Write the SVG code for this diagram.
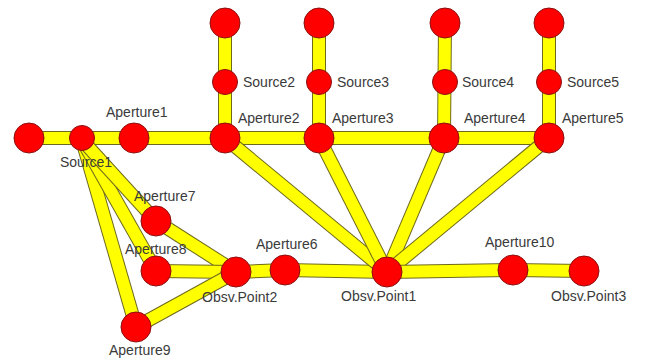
<svg xmlns="http://www.w3.org/2000/svg" width="645" height="363" viewBox="0 0 645 363">
<style>
.eo{stroke:#6e6a1c;stroke-width:14;fill:none}
.ei{stroke:#ffff00;stroke-width:12;fill:none}
.n{fill:#ff0000;stroke:#8a1010;stroke-width:1}
.t{font-family:"Liberation Sans",Arial,sans-serif;font-size:14px;fill:#3a3a3a}
</style>
<rect width="645" height="363" fill="#ffffff"/>
<g id="connectors">
<path class="eo" d="M29 138H82"/><path class="ei" d="M29 138H82"/>
<path class="eo" d="M82 138H134"/><path class="ei" d="M82 138H134"/>
<path class="eo" d="M134 138H225"/><path class="ei" d="M134 138H225"/>
<path class="eo" d="M225 138H319"/><path class="ei" d="M225 138H319"/>
<path class="eo" d="M319 138H444"/><path class="ei" d="M319 138H444"/>
<path class="eo" d="M444 138H549"/><path class="ei" d="M444 138H549"/>
<path class="eo" d="M225 23V138"/><path class="ei" d="M225 23V138"/>
<path class="eo" d="M319 23V138"/><path class="ei" d="M319 23V138"/>
<path class="eo" d="M445 23L444 138"/><path class="ei" d="M445 23L444 138"/>
<path class="eo" d="M549 23V138"/><path class="ei" d="M549 23V138"/>
<path class="eo" d="M82 140L136 327"/><path class="ei" d="M82 140L136 327"/>
<path class="eo" d="M82 140L156 271"/><path class="ei" d="M82 140L156 271"/>
<path class="eo" d="M82 140L156 221"/><path class="ei" d="M82 140L156 221"/>
<path class="eo" d="M156 221L236 272"/><path class="ei" d="M156 221L236 272"/>
<path class="eo" d="M156 271L236 272"/><path class="ei" d="M156 271L236 272"/>
<path class="eo" d="M136 327L236 272"/><path class="ei" d="M136 327L236 272"/>
<path class="eo" d="M236 272L285 270"/><path class="ei" d="M236 272L285 270"/>
<path class="eo" d="M285 270L387 272"/><path class="ei" d="M285 270L387 272"/>
<path class="eo" d="M225 138L387 272"/><path class="ei" d="M225 138L387 272"/>
<path class="eo" d="M319 138L387 272"/><path class="ei" d="M319 138L387 272"/>
<path class="eo" d="M444 138L387 272"/><path class="ei" d="M444 138L387 272"/>
<path class="eo" d="M549 138L387 272"/><path class="ei" d="M549 138L387 272"/>
<path class="eo" d="M387 272L513 270"/><path class="ei" d="M387 272L513 270"/>
<path class="eo" d="M513 270L584 271"/><path class="ei" d="M513 270L584 271"/>
</g>
<g id="node-left"><circle class="n" cx="29" cy="138" r="15"/></g>
<g id="Source1"><circle class="n" cx="82" cy="138" r="12.5"/><text class="t" x="60" y="167">Source1</text></g>
<g id="Aperture1"><circle class="n" cx="134" cy="138" r="15"/><text class="t" x="106" y="117">Aperture1</text></g>
<g id="Aperture2"><circle class="n" cx="225" cy="138" r="15"/><text class="t" x="238" y="123">Aperture2</text></g>
<g id="Aperture3"><circle class="n" cx="319" cy="138" r="15"/><text class="t" x="332" y="123">Aperture3</text></g>
<g id="Aperture4"><circle class="n" cx="444" cy="138" r="15"/><text class="t" x="464" y="123">Aperture4</text></g>
<g id="Aperture5"><circle class="n" cx="549" cy="138" r="15"/><text class="t" x="562" y="123">Aperture5</text></g>
<g id="top2"><circle class="n" cx="225" cy="23" r="15"/></g>
<g id="top3"><circle class="n" cx="319" cy="23" r="15"/></g>
<g id="top4"><circle class="n" cx="445" cy="23" r="15"/></g>
<g id="top5"><circle class="n" cx="549" cy="23" r="15"/></g>
<g id="Source2"><circle class="n" cx="225" cy="82" r="12.5"/><text class="t" x="243" y="87">Source2</text></g>
<g id="Source3"><circle class="n" cx="319" cy="82" r="12.5"/><text class="t" x="337" y="87">Source3</text></g>
<g id="Source4"><circle class="n" cx="445" cy="82" r="12.5"/><text class="t" x="462" y="87">Source4</text></g>
<g id="Source5"><circle class="n" cx="549" cy="82" r="12.5"/><text class="t" x="567" y="87">Source5</text></g>
<g id="Aperture7"><circle class="n" cx="156" cy="221" r="15"/><text class="t" x="134" y="201">Aperture7</text></g>
<g id="Aperture8"><circle class="n" cx="156" cy="271" r="15"/><text class="t" x="125" y="254">Aperture8</text></g>
<g id="ObsvPoint2"><circle class="n" cx="236" cy="272" r="15"/><text class="t" x="202" y="302">Obsv.Point2</text></g>
<g id="Aperture6"><circle class="n" cx="285" cy="270" r="15"/><text class="t" x="256" y="249">Aperture6</text></g>
<g id="ObsvPoint1"><circle class="n" cx="387" cy="272" r="15"/><text class="t" x="341" y="301">Obsv.Point1</text></g>
<g id="Aperture10"><circle class="n" cx="513" cy="270" r="15"/><text class="t" x="485" y="247">Aperture10</text></g>
<g id="ObsvPoint3"><circle class="n" cx="584" cy="271" r="15"/><text class="t" x="551" y="301">Obsv.Point3</text></g>
<g id="Aperture9"><circle class="n" cx="136" cy="327" r="15"/><text class="t" x="109" y="355">Aperture9</text></g>
</svg>
